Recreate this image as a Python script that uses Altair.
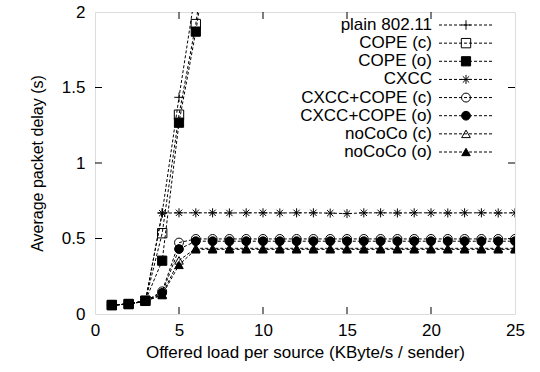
import altair as alt
import pandas as pd

names = ["plain 802.11", "COPE (c)", "COPE (o)", "CXCC",
         "CXCC+COPE (c)", "CXCC+COPE (o)", "noCoCo (c)", "noCoCo (o)"]

load_short = [1, 2, 3, 4, 5, 6, 7]
load_full = [1, 2, 3, 4, 5, 6, 7, 8, 9, 10, 11, 12, 13, 14, 15, 16, 17, 18, 19, 20, 21, 22, 23, 24, 25]

plain = [0.060, 0.065, 0.085, 0.670, 1.435, 2.150, 2.900]
cope_c = [0.060, 0.066, 0.087, 0.535, 1.320, 1.920, 2.700]
cope_o = [0.058, 0.066, 0.088, 0.353, 1.267, 1.870, 2.600]
cxcc = [0.060, 0.066, 0.087, 0.668, 0.670, 0.670, 0.670, 0.669, 0.670, 0.670,
        0.669, 0.670, 0.670, 0.668, 0.665, 0.670, 0.670, 0.669, 0.670, 0.670,
        0.669, 0.670, 0.670, 0.669, 0.670]
cxcc_cope_c = [0.060, 0.066, 0.086, 0.150, 0.473, 0.497, 0.497, 0.497, 0.497, 0.497,
               0.497, 0.497, 0.497, 0.497, 0.497, 0.497, 0.497, 0.497, 0.497, 0.497,
               0.497, 0.497, 0.497, 0.497, 0.497]
cxcc_cope_o = [0.060, 0.066, 0.086, 0.140, 0.430, 0.482, 0.482, 0.482, 0.482, 0.482,
               0.482, 0.482, 0.482, 0.482, 0.482, 0.482, 0.482, 0.482, 0.482, 0.482,
               0.482, 0.482, 0.482, 0.482, 0.482]
nococo_c = [0.058, 0.066, 0.085, 0.130, 0.355, 0.435, 0.435, 0.435, 0.435, 0.435,
            0.435, 0.435, 0.435, 0.435, 0.435, 0.435, 0.435, 0.435, 0.435, 0.435,
            0.435, 0.435, 0.435, 0.435, 0.435]
nococo_o = [0.058, 0.065, 0.085, 0.125, 0.325, 0.428, 0.428, 0.428, 0.428, 0.428,
            0.428, 0.428, 0.428, 0.428, 0.428, 0.428, 0.428, 0.428, 0.428, 0.428,
            0.428, 0.428, 0.428, 0.428, 0.428]

x_ticks = [0, 5, 10, 15, 20, 25]
y_ticks = [0, 0.5, 1, 1.5, 2]

series_data = [
    (names[0], load_short, plain),
    (names[1], load_short, cope_c),
    (names[2], load_short, cope_o),
    (names[3], load_full, cxcc),
    (names[4], load_full, cxcc_cope_c),
    (names[5], load_full, cxcc_cope_o),
    (names[6], load_full, nococo_c),
    (names[7], load_full, nococo_o),
]
rows = []
for name, xs, ys in series_data:
    for xv, yv in zip(xs, ys):
        rows.append({"series": name, "x": xv, "y": yv})
df = pd.DataFrame(rows)

plus = "M-1,0L1,0M0,-1L0,1"
aster = "M-1,0L1,0M0,-1L0,1M-0.7,-0.7L0.7,0.7M-0.7,0.7L0.7,-0.7"
shapes = [plus, "square", "square", aster, "circle", "circle", "triangle-up", "triangle-up"]
fills = ["transparent", "transparent", "black", "transparent", "transparent", "black", "transparent", "black"]
sizes = [90, 72, 100, 90, 72, 72, 72, 72]

FONT = "Liberation Sans"

X = alt.X("x:Q", scale=alt.Scale(domain=[0, 25], nice=False, zero=False),
          axis=alt.Axis(values=x_ticks, title="Offered load per source (KByte/s / sender)",
                        grid=False, ticks=False, domain=False, labelPadding=8, labelFlush=False,
                        labelFontSize=17, titleFontSize=17, titleFontWeight="normal",
                        labelFont=FONT, titleFont=FONT, titlePadding=6,
                        labelColor="black", titleColor="black"))
Y = alt.Y("y:Q", scale=alt.Scale(domain=[0, 2], nice=False),
          axis=alt.Axis(values=y_ticks, title="Average packet delay (s)", labelExpr="datum.value",
                        grid=False, ticks=False, domain=False, labelPadding=10, labelFlush=False,
                        labelFontSize=17, titleFontSize=16, titleFontWeight="normal",
                        labelFont=FONT, titleFont=FONT, titlePadding=16,
                        labelColor="black", titleColor="black"))

shape_enc = alt.Shape("series:N", scale=alt.Scale(domain=names, range=shapes), legend=None)
fill_enc = alt.Fill("series:N", scale=alt.Scale(domain=names, range=fills), legend=None)
size_enc = alt.Size("series:N", scale=alt.Scale(domain=names, range=sizes), legend=None)

lines = alt.Chart(df).mark_line(color="black", strokeWidth=1, strokeDash=[3, 2], clip=True).encode(
    x=X, y=Y, detail="series:N", order="x:Q")
points = alt.Chart(df).mark_point(filled=True, stroke="black", strokeWidth=1,
                                  opacity=1, clip=True).encode(
    x=X, y=Y, shape=shape_enc, fill=fill_enc, size=size_enc)

xt = pd.DataFrame({"x": x_ticks[1:-1]})
yt = pd.DataFrame({"y": y_ticks[1:-1]})
tick_b = alt.Chart(xt).mark_rule(color="black", strokeWidth=1).encode(x=X, y=alt.value(302), y2=alt.value(295))
tick_t = alt.Chart(xt).mark_rule(color="black", strokeWidth=1).encode(x=X, y=alt.value(0), y2=alt.value(7))
tick_l = alt.Chart(yt).mark_rule(color="black", strokeWidth=1).encode(y=Y, x=alt.value(0), x2=alt.value(7))
tick_r = alt.Chart(yt).mark_rule(color="black", strokeWidth=1).encode(y=Y, x=alt.value(420), x2=alt.value(413))

main = alt.layer(tick_b, tick_t, tick_l, tick_r, lines, points)

leg_df = pd.DataFrame({"series": names})
LY = alt.Y("series:N", sort=names, scale=alt.Scale(type="point", range=[13, 140], padding=0), axis=None)
leg_text = alt.Chart(leg_df).mark_text(align="right", baseline="middle", fontSize=17, font=FONT,
                                       color="black").encode(x=alt.value(337), y=LY, text="series:N")
leg_rule = alt.Chart(leg_df).mark_rule(color="black", strokeWidth=1, strokeDash=[3, 2]).encode(
    x=alt.value(344), x2=alt.value(398), y=LY)
leg_pts = alt.Chart(leg_df).mark_point(filled=True, stroke="black", strokeWidth=1,
                                       opacity=1).encode(x=alt.value(371), y=LY, shape=shape_enc,
                                                         fill=fill_enc, size=size_enc)
legend = alt.layer(leg_text, leg_rule, leg_pts)

chart = alt.layer(main, legend).resolve_scale(y="independent").properties(
    width=420, height=302, autosize="none",
    padding={"left": 95, "top": 12, "right": 25, "bottom": 58}
).configure_view(stroke="black", strokeWidth=1).configure(background="white")

chart.save("out.html", embed_options={"renderer": "svg", "actions": False})
